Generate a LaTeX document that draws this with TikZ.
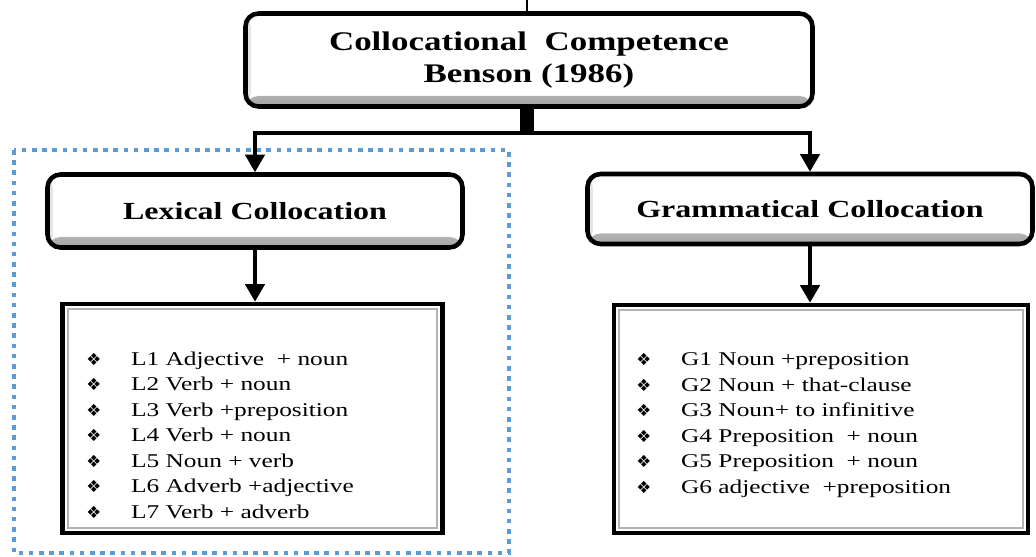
\documentclass[tikz,border=0pt]{standalone}
\usepackage{fontspec}
\setmainfont[FakeStretch=1.3]{Liberation Serif}
\newfontfamily\bulletfont{DejaVu Sans}
\usetikzlibrary{arrows.meta}
\definecolor{dotblue}{RGB}{91,155,213}
\newcommand{\itembullet}{\makebox[25.5pt][l]{\bulletfont\fontsize{9.5}{9.5}\selectfont ❖}}

\tikzset{
  headbox/.style={draw=black, line width=2.6pt, rounded corners=2.6mm, fill=white,
    path picture={
      \shade[top color=white, bottom color=gray!70] ([yshift=6pt]path picture bounding box.south west) rectangle (path picture bounding box.south east);
      \fill[gray!20] (path picture bounding box.south west) rectangle ([xshift=3pt]path picture bounding box.north west);
    }},
  listbox/.style={draw=black, line width=2.6pt, fill=white,
    path picture={
      \draw[gray!60, line width=1pt] ([shift={(3pt,3pt)}]path picture bounding box.south west) rectangle ([shift={(-3pt,-3pt)}]path picture bounding box.north east);
    }},
  itemtext/.style={align=left, inner sep=0pt, anchor=west, font=\fontsize{11.1}{14.5}\selectfont},
  link/.style={line width=2pt},
  arrowlink/.style={link, -{Triangle[length=10pt,width=11pt]}},
}

\begin{document}
\begin{tikzpicture}[x=0.2mm,y=-0.2mm]
    \useasboundingbox (0,0) rectangle (1036,557);
    % dotted frame round the lexical side
    \draw[dotblue, line width=2.4pt, dash pattern=on 2.6pt off 3.2pt] (14,150) rectangle (509,553);
    % heads
    \node[headbox, minimum width=113.4mm, minimum height=18.6mm, align=center,
          font=\bfseries\fontsize{15.3}{18.7}\selectfont] (competence) at (529,60)
          {Collocational\ \ Competence\\Benson (1986)};
    \node[headbox, minimum width=83mm, minimum height=14.6mm,
          font=\bfseries\fontsize{14}{16}\selectfont] (lexical) at (255,211) {Lexical Collocation};
    \node[headbox, minimum width=89mm, minimum height=14mm,
          font=\bfseries\fontsize{14}{16}\selectfont] (grammatical) at (810,209) {Grammatical Collocation};
    % lists
    \node[listbox, minimum width=76mm, minimum height=45.8mm] (lexlist) at (252.5,418.5) {};
    \node[itemtext] (lexitems) at (86,435) {%
      \itembullet L1 Adjective\ \ + noun\\
      \itembullet L2 Verb + noun\\
      \itembullet L3 Verb +preposition\\
      \itembullet L4 Verb + noun\\
      \itembullet L5 Noun + verb\\
      \itembullet L6 Adverb\ +adjective\\
      \itembullet L7 Verb + adverb};
    \node[listbox, minimum width=82.8mm, minimum height=45.6mm] (gramlist) at (821,419) {};
    \node[itemtext] (gramitems) at (636,425) {%
      \itembullet G1 Noun\ +preposition\\
      \itembullet G2 Noun\ + that-clause\\
      \itembullet G3 Noun+ to infinitive\\
      \itembullet G4 Preposition\ \ + noun\\
      \itembullet G5 Preposition\ \ + noun\\
      \itembullet G6 adjective\ \ +preposition};
    % connectors
    \coordinate (split) at (527,133);
    \coordinate (tick) at (527,0);
    \draw[line width=1pt] (tick) -- (tick |- competence.north);
    \draw[line width=8pt] (split |- competence.south) -- (split);
    \draw[arrowlink] (split) -| (lexical.north);
    \draw[arrowlink] (split) -| (grammatical.north);
    \draw[arrowlink] (lexical.south) -- (lexical.south |- lexlist.north);
    \draw[arrowlink] (grammatical.south) -- (grammatical.south |- gramlist.north);
\end{tikzpicture}
\end{document}
